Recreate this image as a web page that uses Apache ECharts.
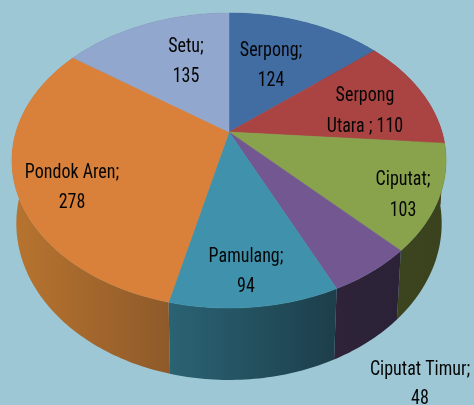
<!DOCTYPE html>
<html><head><meta charset="utf-8">
<style>html,body{margin:0;padding:0;background:#9DC7D5}#c{width:474px;height:405px}</style>
<script src="https://cdn.jsdelivr.net/npm/echarts@6/dist/echarts.min.js"></script>
</head><body><div id="c"></div>
<script>
const categories = ['Serpong','Serpong Utara','Ciputat','Ciputat Timur','Pamulang','Pondok Aren','Setu'];
const values = [124,110,103,48,94,278,135];
const labelLines = [['Serpong;','124'],['Serpong','Utara ; 110'],['Ciputat;','103'],['Ciputat Timur;','48'],['Pamulang;','94'],['Pondok Aren;','278'],['Setu;','135']];
const topColors = ['#426DA3','#A94442','#88A34C','#735790','#4092AC','#D9803A','#92A7CE'];
const wallLeft  = ['#2F4C72','#74302E','#3C4420','#2E2338','#2A6374','#B8742F','#64738D'];
const wallRight = ['#2F4C72','#74302E','#3A421D','#2B2238','#1D3E4A','#8E5A2A','#64738D'];
const labelPos = [[271,50.5,80.5],[365,95.5,126.5],[403,179.5,210.5],[420,369.5,398.5],[246,256.5,286.5],[72,172.5,202.5],[186,46.5,76.5]];

const cx=229, cy=132, A=213, B=142, D=63, P=0.1932, Q=0.02;
const total = values.reduce((a,b)=>a+b,0);
const starts = []; { let s=0; values.forEach(v=>{starts.push(s); s+=v;}); }
function proj(deg, low){
  const t=deg*Math.PI/180, u=Math.sin(t), v=Math.cos(t), w=1+P*v+(low?Q:0);
  return [cx+A*u/w, cy+(-B*v+(low?D:0))/w];
}
function arc(a0,a1,low){
  const n=Math.max(2,Math.ceil(a1-a0)), pts=[];
  for(let i=0;i<=n;i++) pts.push(proj(a0+(a1-a0)*i/n,low));
  return pts;
}
function angles(i,val){ const a0=starts[i]/total*360; return [a0,a0+val/total*360]; }

function renderWall(params,api){
  const i=params.dataIndex, [a0,a1]=angles(i,api.value(0));
  const upper=arc(a0,a1,false), lower=arc(a0,a1,true).reverse();
  const pts=upper.concat(lower);
  const xs=pts.map(p=>p[0]);
  const fill={type:'linear',global:true,x:Math.min(...xs),y:0,x2:Math.max(...xs),y2:0,colorStops:[
    {offset:0,color:wallLeft[i]},{offset:1,color:wallRight[i]}]};
  return {type:'polygon',shape:{points:pts},style:{fill:fill}};
}
function renderTop(params,api){
  const i=params.dataIndex, [a0,a1]=angles(i,api.value(0));
  const pts=[[cx,cy]].concat(arc(a0,a1,false));
  return {type:'polygon',shape:{points:pts},style:{fill:topColors[i],stroke:topColors[i],lineWidth:0.5}};
}
function renderLabel(params,api){
  const i=params.dataIndex, p=labelPos[i];
  return {type:'group',children:labelLines[i].map((s,k)=>({type:'text',x:p[0],y:p[k+1],scaleY:1.12,
    style:{text:s,x:0,y:0,align:'center',verticalAlign:'middle',fill:'#050505',
      font:'18px "Liberation Sans Narrow","Roboto Condensed","Liberation Sans",sans-serif'}}))};
}
const wallData=values.map((v,i)=>({name:categories[i],value:[v]}));
const chart=echarts.init(document.getElementById('c'),null,{renderer:'canvas'});
chart.setOption({
  animation:false,
  backgroundColor:'#9DC7D5',
  series:[
    {type:'custom',coordinateSystem:'none',renderItem:renderWall,data:wallData,silent:true,z:1},
    {type:'custom',coordinateSystem:'none',renderItem:renderTop,data:wallData,silent:true,z:2},
    {type:'custom',coordinateSystem:'none',renderItem:renderLabel,data:wallData,silent:true,z:3}
  ]
});
</script></body></html>
